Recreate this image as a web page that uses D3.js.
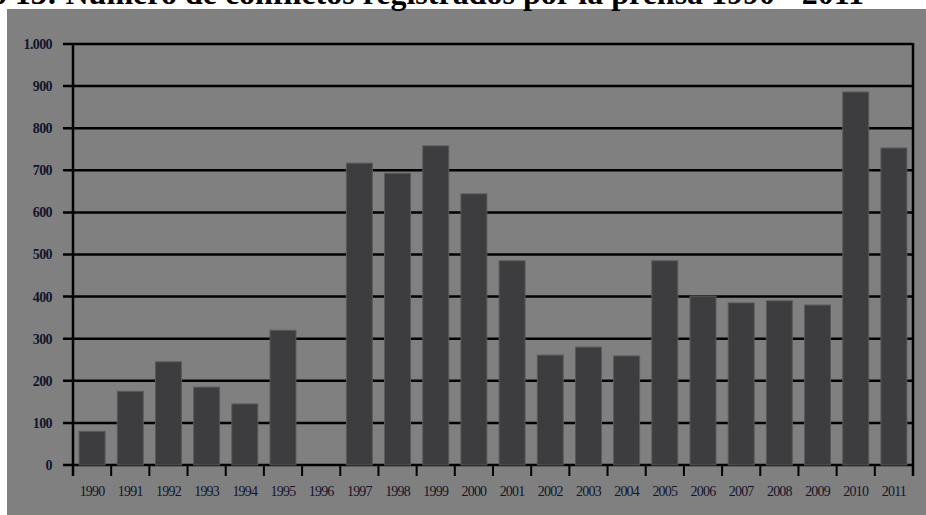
<!DOCTYPE html>
<html lang="es">
<head>
<meta charset="UTF-8">
<title>Número de conflictos registrados por la prensa</title>
<style>
  body { margin: 0; background: #fff; }
  svg { display: block; }
</style>
</head>
<body>
<script src="https://cdn.jsdelivr.net/npm/d3@7/dist/d3.min.js"></script>
<script>
// datos
var years = ["1990","1991","1992","1993","1994","1995","1996","1997","1998","1999","2000",
             "2001","2002","2003","2004","2005","2006","2007","2008","2009","2010","2011"];
var conflicts = [80, 175, 245, 185, 145, 320, 0, 717, 693, 758, 644,
                 485, 261, 280, 259, 485, 401, 385, 390, 380, 886, 753];
var yTicks = [0, 100, 200, 300, 400, 500, 600, 700, 800, 900, 1000];
var titleText = "Gráfico 13: Número de conflictos registrados por la prensa 1990 - 2011";

var W = 926, H = 515;
var svg = d3.select("body").append("svg").attr("width", W).attr("height", H);

// fondo gris
svg.append("rect").attr("x", 7).attr("y", 9).attr("width", W - 7).attr("height", H - 9)
  .attr("fill", "#808080");

// titulo (recortado arriba como en el original)
svg.append("text")
  .attr("x", 864).attr("y", 4)
  .attr("text-anchor", "end")
  .attr("font-family", "Liberation Serif, serif")
  .attr("font-weight", "bold")
  .attr("font-size", 32)
  .attr("fill", "#000")
  .text(titleText);

var mLeft = 73, mRight = 913, mTop = 44, mBottom = 465;

var x = d3.scaleBand().domain(years).range([mLeft, mRight]).paddingInner(0.32).paddingOuter(0.16);
var y = d3.scaleLinear().domain([0, 1000]).range([mBottom, mTop]);

// lineas de cuadricula
svg.selectAll(".grid").data(yTicks).enter().append("line")
  .attr("class", "grid")
  .attr("x1", mLeft - 10).attr("x2", mRight)
  .attr("y1", function(d){ return y(d); })
  .attr("y2", function(d){ return y(d); })
  .attr("stroke", "#000").attr("stroke-width", 2.5);

// barras
svg.selectAll(".bar").data(conflicts).enter().append("rect")
  .attr("class", "bar")
  .attr("x", function(d, i){ return x(years[i]); })
  .attr("y", function(d){ return y(d); })
  .attr("width", x.bandwidth())
  .attr("height", function(d){ return mBottom - y(d); })
  .attr("fill", "#3d3d3f")
  .attr("stroke", "#5a5a5c").attr("stroke-width", 1);

// ejes
svg.append("line").attr("x1", mLeft).attr("x2", mLeft).attr("y1", mTop - 1).attr("y2", mBottom + 11)
  .attr("stroke", "#000").attr("stroke-width", 2.5);
svg.append("line").attr("x1", mRight).attr("x2", mRight).attr("y1", mTop - 1).attr("y2", mBottom + 11)
  .attr("stroke", "#000").attr("stroke-width", 2.5);

// marcas del eje x (entre categorias)
svg.selectAll(".xtick").data(years.slice(1)).enter().append("line")
  .attr("class", "xtick")
  .attr("x1", function(d){ return x(d) - (x.step() - x.bandwidth()) / 2; })
  .attr("x2", function(d){ return x(d) - (x.step() - x.bandwidth()) / 2; })
  .attr("y1", mBottom).attr("y2", mBottom + 11)
  .attr("stroke", "#000").attr("stroke-width", 2);

// etiquetas eje y
svg.selectAll(".ylab").data(yTicks).enter().append("text")
  .attr("class", "ylab")
  .attr("x", 52).attr("y", function(d){ return y(d); })
  .attr("dy", "0.35em")
  .attr("text-anchor", "end")
  .attr("font-family", "Liberation Serif, serif")
  .attr("font-weight", "bold")
  .attr("font-size", 14)
  .attr("letter-spacing", -0.6)
  .attr("fill", "#14142a")
  .text(function(d){ return d3.format(",")(d).replace(",", "."); });

// etiquetas eje x
svg.selectAll(".xlab").data(years).enter().append("text")
  .attr("class", "xlab")
  .attr("x", function(d){ return x(d) + x.bandwidth() / 2; })
  .attr("y", 496)
  .attr("text-anchor", "middle")
  .attr("font-family", "Liberation Serif, serif")
  .attr("font-size", 14)
  .attr("letter-spacing", -0.8)
  .attr("fill", "#14142a")
  .text(function(d){ return d; });
</script>
</body>
</html>
